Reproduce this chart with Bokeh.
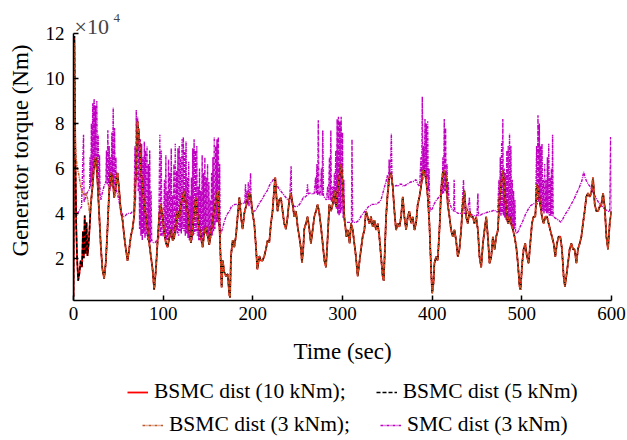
from bokeh.plotting import figure
from bokeh.layouts import column
from bokeh.models import Range1d, Legend, LegendItem, Label, FixedTicker
from bokeh.embed import file_html
from bokeh.resources import INLINE

# ---------------- data (torque in units of 1e4 Nm) ----------------
x_ticks = [0, 100, 200, 300, 400, 500, 600]
y_ticks = [2, 4, 6, 8, 10, 12]

# BSMC response (10 kNm / 5 kNm disturbance curves coincide)
bsmc_points = [
    (0, 0.3), (1.0, 11.9), (2.0, 7.0), (3.0, 3.5), (4.0, 2.0), (5.2, 1.0), (6.5, 1.3), (8.0, 1.9), (9.5, 1.6), (10.5, 3.2),
    (11.5, 2.0), (12.5, 3.9), (13.5, 2.2), (14.5, 3.6), (15.6, 2.1), (16.8, 2.6), (18.0, 3.4), (19.3, 4.4), (21.2, 5.2), (23.0, 6.2),
    (24.9, 6.5), (26.7, 5.5), (28.6, 4.0), (30.5, 2.5), (32.3, 1.5), (34.2, 1.1), (36.0, 1.8), (37.9, 3.3), (39.8, 5.0), (41.6, 5.8),
    (43.5, 5.6), (45.4, 4.7), (47.2, 5.2), (49.1, 5.8), (51.0, 5.0), (52.8, 4.1), (54.7, 3.7), (56.5, 3.0), (58.4, 2.4), (60.2, 1.9),
    (62.1, 2.4), (64.0, 3.0), (65.8, 3.3), (67.7, 3.9), (69.6, 5.9), (71.4, 8.1), (73.3, 7.3), (75.1, 5.9), (77.0, 5.2), (78.8, 4.4),
    (80.7, 3.9), (82.6, 3.3), (84.4, 2.7), (86.3, 2.1), (88.2, 1.5), (90.0, 0.6), (91.9, 1.5), (93.7, 2.7), (95.6, 3.9), (97.4, 4.4),
    (99.3, 3.9), (101.2, 3.1), (103.0, 2.7), (104.9, 2.5), (106.8, 2.9), (108.6, 3.3), (110.5, 2.8), (112.3, 2.9), (114.2, 3.6), (116.1, 4.1),
    (117.9, 3.8), (119.8, 4.4), (121.7, 4.7), (123.5, 5.0), (125.4, 4.4), (127.2, 4.1), (129.1, 3.3), (130.9, 2.7), (132.8, 3.3), (134.7, 4.1),
    (136.5, 4.7), (138.4, 3.9), (140.3, 3.3), (142.1, 3.0), (144.0, 2.5), (145.8, 3.1), (147.7, 3.4), (149.6, 3.0), (151.4, 2.6), (153.3, 3.2),
    (155.0, 3.6), (157.0, 4.2), (159.0, 4.6), (161.0, 5.0), (162.5, 3.8), (164.0, 2.1), (165.2, 0.7), (166.5, 1.9), (168.0, 1.4), (170.0, 1.2),
    (172.0, 1.3), (173.7, 0.4), (174.6, 0.25), (175.6, 2.1), (177.5, 2.8), (179.3, 2.5), (181.2, 3.0), (183.0, 3.85), (185.0, 4.7), (186.8, 3.85),
    (188.6, 3.3), (190.5, 4.0), (192.3, 4.3), (194.2, 4.6), (196.0, 4.9), (197.9, 4.7), (199.7, 4.0), (201.6, 3.55), (203.5, 2.5), (205.0, 1.5),
    (207.2, 2.1), (209.0, 1.9), (210.9, 1.9), (212.8, 2.1), (214.6, 2.4), (216.5, 2.8), (218.3, 2.7), (220.2, 3.55), (222.0, 4.1), (224.0, 5.2),
    (225.0, 5.6), (226.4, 4.7), (227.6, 4.1), (229.5, 4.6), (231.3, 4.7), (233.2, 4.1), (235.0, 3.55), (236.9, 3.3), (238.8, 3.85), (240.6, 4.6),
    (242.5, 4.9), (244.4, 4.4), (246.2, 3.85), (248.1, 4.1), (250.0, 3.4), (251.8, 2.96), (253.7, 2.4), (254.8, 1.8), (256.2, 2.4), (257.4, 3.3),
    (259.2, 3.55), (261.1, 3.85), (263.0, 3.3), (264.8, 2.66), (266.7, 3.26), (268.6, 3.85), (270.4, 4.1), (272.3, 4.4), (274.2, 4.0), (276.0, 3.4),
    (277.9, 2.66), (279.8, 1.9), (281.6, 1.6), (283.5, 2.96), (285.3, 4.4), (287.2, 4.1), (289.0, 4.4), (290.9, 5.0), (292.8, 4.3), (294.6, 5.0),
    (296.5, 5.6), (298.4, 6.2), (300.3, 5.3), (302.0, 3.85), (304.4, 2.96), (306.0, 3.26), (308.0, 2.66), (309.5, 3.55), (311.4, 3.26), (313.2, 2.66),
    (315.0, 2.07), (316.9, 1.2), (318.8, 1.8), (320.6, 2.4), (322.5, 2.96), (324.4, 3.26), (326.2, 4.1), (328.0, 3.85), (330.0, 3.55), (331.8, 3.85),
    (333.7, 3.4), (335.5, 3.7), (337.4, 3.26), (339.3, 3.55), (341.1, 2.96), (343.0, 2.07), (344.8, 1.2), (346.0, 1.0), (347.5, 2.66), (348.6, 3.85),
    (350.4, 4.9), (352.3, 5.6), (354.2, 5.8), (356.0, 5.2), (357.9, 4.1), (359.7, 3.26), (361.6, 3.55), (363.5, 3.4), (365.3, 3.85), (367.2, 4.74),
    (369.0, 3.85), (370.9, 3.26), (372.8, 3.85), (374.6, 4.1), (376.5, 3.55), (378.3, 3.85), (380.2, 3.26), (382.0, 3.55), (383.9, 4.4), (385.8, 4.74),
    (387.6, 5.2), (389.5, 5.9), (391.4, 5.9), (393.2, 5.5), (395.1, 4.74), (396.9, 3.55), (398.8, 1.5), (400.0, 0.44), (401.5, 0.9), (402.5, 1.78),
    (404.4, 2.07), (406.2, 1.9), (408.1, 3.26), (410.0, 5.0), (411.8, 5.8), (413.7, 5.9), (415.5, 5.6), (417.4, 4.4), (419.3, 3.85), (421.1, 3.26),
    (423.0, 2.96), (424.8, 3.26), (426.7, 2.8), (428.6, 2.07), (430.4, 2.4), (432.3, 3.26), (434.1, 4.4), (436.0, 5.0), (437.9, 3.85), (439.7, 3.55),
    (441.6, 4.1), (443.5, 3.85), (445.3, 3.85), (447.2, 3.55), (449.0, 3.85), (451.0, 3.26), (452.8, 2.07), (454.7, 1.6), (456.6, 2.66), (458.4, 3.26),
    (460.3, 3.85), (462.1, 2.96), (464.0, 1.78), (465.9, 2.07), (467.7, 2.96), (469.6, 2.4), (471.4, 2.96), (473.3, 3.26), (475.2, 4.74), (477.0, 5.3),
    (478.9, 5.9), (480.8, 5.0), (482.6, 4.1), (484.5, 3.55), (486.3, 3.85), (488.2, 3.55), (490.1, 3.26), (491.9, 2.96), (493.8, 2.5), (495.6, 1.78),
    (497.5, 0.74), (498.6, 0.6), (500.4, 1.78), (502.0, 2.4), (503.8, 2.66), (505.7, 2.07), (507.6, 1.78), (509.4, 2.66), (511.3, 3.55), (513.1, 3.85),
    (515.0, 3.85), (516.8, 5.3), (518.7, 5.0), (520.6, 4.4), (522.4, 3.85), (524.3, 3.55), (526.2, 3.85), (528.0, 3.85), (529.9, 3.55), (531.7, 3.26),
    (533.6, 2.96), (535.5, 2.66), (537.3, 2.07), (539.2, 2.66), (541.0, 2.96), (542.9, 2.96), (544.8, 2.4), (546.6, 1.2), (548.1, 0.74), (549.6, 1.2),
    (551.5, 1.78), (553.3, 2.4), (555.2, 2.66), (557.1, 2.4), (558.9, 2.4), (560.8, 1.78), (562.6, 2.4), (564.5, 2.66), (566.4, 2.96), (568.2, 3.55),
    (570.1, 4.1), (571.9, 4.74), (573.8, 4.9), (575.7, 4.74), (577.5, 4.9), (579.4, 5.6), (581.3, 4.4), (583.1, 4.1), (585.0, 4.1), (586.8, 4.3),
    (588.7, 4.4), (590.6, 4.9), (592.4, 4.3), (594.3, 2.96), (596.1, 2.4), (598.0, 3.55), (600.0, 4.1),
]
bsmc_time = [t for t, v in bsmc_points]
bsmc_torque = [v for t, v in bsmc_points]

# BSMC with 3 kNm disturbance: differs only in the start-up transient
bsmc3_early_points = [
    (0, 0.3), (1.0, 11.6), (1.6, 8.0), (2.5, 6.6), (4.0, 6.1), (6.0, 5.7),
    (8.0, 5.2), (10.0, 4.9), (12.0, 4.8), (14.0, 4.9), (16.0, 4.6), (18.0, 4.0),
]
bsmc3_time = [t for t, v in bsmc3_early_points] + [t for t in bsmc_time if t > 19]
bsmc3_torque = [v for t, v in bsmc3_early_points] + [v for t, v in bsmc_points if t > 19]

# SMC response (3 kNm disturbance)
smc_points = [
    (0, 0.3), (0.8, 7.0), (2.0, 5.0), (3.5, 3.9), (6, 4.1), (9, 4.3), (11.2, 7.5), (11.8, 4.5), (12.5, 4.6), (15, 4.9),
    (18, 5.1), (18.5, 6.5), (19.2, 5.2), (20, 8.0), (20.7, 5.4), (21.5, 8.9), (22.2, 5.6), (23, 9.1), (23.7, 6.0), (24.5, 8.8),
    (25.2, 6.2), (26, 9.0), (26.7, 5.5), (27.5, 7.5), (28.2, 4.8), (29, 6.6), (29.7, 4.8), (30.5, 4.6), (32, 4.9), (34, 5.2),
    (36, 5.4), (36.8, 6.8), (37.5, 5.3), (38.3, 7.7), (39, 5.2), (39.8, 7.0), (40.5, 5.0), (41.3, 6.5), (42, 5.2), (42.8, 7.6),
    (43.5, 5.4), (44.3, 8.7), (45, 5.0), (45.8, 7.8), (46.5, 5.2), (47.3, 6.5), (48, 5.0), (50, 4.7), (52, 4.3), (54, 4.0),
    (56, 3.85), (58, 3.9), (60, 4.0), (62, 4.0), (64, 4.0), (66, 4.1), (67.5, 4.1), (68.5, 7.0), (69.2, 4.6), (70, 8.6),
    (70.7, 5.5), (71.5, 8.3), (72.2, 5.0), (73, 7.8), (73.7, 3.3), (74.5, 7.3), (75.2, 3.0), (76, 7.1), (76.7, 2.8), (77.5, 6.5),
    (78.2, 3.1), (79, 7.2), (79.7, 2.9), (80.5, 6.8), (81.2, 3.0), (82, 7.0), (82.7, 2.8), (83.5, 6.2), (84.2, 2.9), (85, 6.8),
    (85.7, 2.7), (86.5, 5.0), (87.2, 2.8), (89, 2.7), (91, 2.7), (93, 2.8), (95, 2.9), (96.3, 7.5), (97, 3.0), (97.8, 6.8),
    (98.5, 3.0), (100, 3.0), (101.5, 5.5), (102.2, 2.9), (103, 6.6), (103.7, 2.8), (104.5, 5.0), (105.2, 2.8), (106, 6.4), (106.7, 3.0),
    (107.5, 5.8), (108.2, 2.9), (109, 6.9), (109.7, 3.1), (110.5, 4.8), (111.2, 2.9), (112, 6.2), (112.7, 3.0), (113.5, 7.1), (114.2, 3.2),
    (115, 5.9), (115.7, 3.1), (116.5, 6.9), (117.2, 3.0), (118, 7.0), (118.7, 3.2), (119.5, 6.5), (120.2, 3.1), (121, 7.3), (121.7, 3.3),
    (122.5, 7.4), (123.2, 3.2), (124, 6.8), (124.7, 3.0), (125.5, 7.2), (126.2, 3.1), (127, 5.6), (127.7, 2.9), (128.5, 6.3), (129.2, 2.8),
    (130, 4.8), (130.7, 2.7), (131.5, 5.6), (132.2, 2.8), (133, 6.9), (133.7, 3.0), (134.5, 7.3), (135.2, 3.1), (136, 6.8), (136.7, 3.2),
    (137.5, 7.0), (138.2, 3.0), (139, 5.2), (139.7, 2.8), (140.5, 6.0), (141.2, 2.8), (142, 5.0), (142.7, 2.7), (143.5, 6.6), (144.2, 2.8),
    (145, 5.8), (145.7, 3.0), (146.5, 6.5), (147.2, 3.1), (148, 5.6), (148.7, 3.0), (149.5, 6.2), (150.2, 2.9), (151, 5.4), (151.7, 2.8),
    (152.5, 4.6), (153.2, 2.9), (154, 5.8), (154.7, 3.0), (155.5, 6.5), (156.2, 3.2), (157, 7.4), (157.7, 3.3), (158.5, 7.0), (159.2, 3.6),
    (160, 7.3), (160.7, 3.6), (161.5, 7.4), (162.2, 3.4), (163, 6.2), (163.7, 3.2), (164.3, 3.1), (166, 3.3), (168, 3.6), (170, 3.85),
    (172, 4.0), (174, 4.1), (176, 4.3), (178, 4.35), (180, 4.4), (182, 4.4), (184, 4.35), (186, 4.4), (188, 4.45), (190, 4.45),
    (191, 4.45), (191.8, 5.3), (192.5, 4.4), (193.5, 5.0), (194.2, 4.4), (195, 5.4), (195.7, 4.3), (197.5, 5.8), (198.3, 4.2), (200, 4.1),
    (202, 4.1), (204, 4.2), (206, 4.35), (208, 4.5), (210, 4.6), (212, 4.75), (214, 4.9), (216, 5.0), (218, 5.2), (220, 5.35),
    (222, 5.45), (223.5, 5.55), (225, 5.4), (227, 5.25), (229, 5.1), (231, 5.0), (233, 4.9), (235, 4.8), (237, 4.7), (239, 4.6),
    (241, 4.5), (242.7, 6.1), (243.3, 4.45), (245, 4.35), (247, 4.3), (249, 4.3), (251, 4.35), (253, 4.45), (255, 4.6), (256.5, 4.74),
    (258, 4.7), (260, 4.8), (261, 5.3), (261.7, 4.85), (263, 4.9), (265, 4.9), (267, 4.85), (268.5, 4.9), (270, 5.6), (270.7, 4.9),
    (271.5, 6.2), (272.2, 4.8), (273, 8.15), (273.7, 4.9), (275, 4.8), (276.5, 6.0), (277.2, 4.8), (278, 7.7), (278.7, 4.8), (280, 4.7),
    (282, 4.6), (283.5, 5.2), (284.2, 4.6), (285.5, 6.5), (286.2, 4.6), (287, 7.7), (287.7, 4.5), (289, 5.2), (289.7, 4.5), (291, 5.8),
    (291.7, 4.4), (292.5, 6.8), (293.2, 4.2), (294, 8.2), (294.7, 4.0), (295.5, 8.3), (296.2, 3.9), (297, 8.1), (297.7, 4.0), (298.5, 8.3),
    (299.2, 4.1), (300, 7.6), (300.7, 3.8), (301.5, 5.5), (302.2, 3.6), (304, 3.6), (306, 3.6), (308, 3.6), (310, 3.6), (310.6, 7.3),
    (311.3, 3.6), (313, 3.6), (315, 3.6), (317, 3.65), (319, 3.75), (321, 3.9), (323, 4.0), (325, 4.1), (327, 4.2), (329, 4.3),
    (331, 4.35), (333, 4.4), (335, 4.4), (337, 4.4), (339, 4.45), (341, 4.5), (343, 4.6), (345, 4.9), (347, 5.2), (348.5, 5.4),
    (350, 5.7), (351.2, 5.2), (352, 6.4), (352.7, 5.6), (353.5, 6.1), (354.5, 7.55), (355.2, 5.4), (356, 5.2), (358, 5.2), (360, 5.25),
    (362, 5.2), (364, 5.3), (366, 5.3), (368, 5.2), (370, 5.25), (372, 5.3), (374, 5.35), (376, 5.4), (378, 5.4), (380, 5.45),
    (382, 5.5), (384, 5.3), (386, 5.2), (387.5, 6.5), (388.2, 5.3), (389, 9.2), (389.7, 5.5), (390.5, 7.0), (391.2, 5.8), (392, 8.2),
    (392.7, 5.6), (393.5, 8.0), (394.2, 5.5), (395, 8.1), (395.7, 5.0), (396.5, 6.0), (397.2, 4.5), (398, 4.1), (400, 4.2), (402, 4.4),
    (404, 4.55), (406, 4.65), (408, 4.75), (409.5, 4.8), (410.5, 5.5), (411.2, 4.85), (412, 6.5), (412.7, 4.9), (413.5, 8.2), (414.2, 5.0),
    (415, 7.8), (415.7, 4.9), (416.5, 6.2), (417.2, 4.8), (418, 5.4), (418.7, 4.6), (420, 4.4), (422, 4.2), (424, 4.1), (424.5, 5.5),
    (425.2, 4.1), (427, 4.05), (429, 4.0), (431, 4.0), (433, 4.0), (435, 5.5), (435.7, 4.0), (437, 4.0), (439, 4.0), (441.6, 4.7),
    (442.3, 4.0), (444, 3.95), (446, 3.9), (448, 3.9), (450, 3.9), (451, 4.9), (451.7, 3.9), (453, 3.9), (455, 3.95), (457, 4.0),
    (459, 4.0), (461, 4.05), (463, 4.05), (465, 4.1), (467, 4.1), (469, 4.15), (471, 4.1), (473, 4.05), (474.5, 5.5), (475.2, 4.0),
    (476, 6.5), (476.7, 3.9), (477.5, 7.2), (478.2, 4.0), (478.8, 8.2), (479.5, 3.9), (480.3, 6.0), (481, 3.8), (481.8, 5.8), (482.5, 3.7),
    (483.3, 6.8), (484, 3.6), (484.8, 7.0), (485.5, 3.6), (486.3, 7.55), (487, 3.5), (487.8, 7.0), (488.5, 3.4), (489.3, 5.5), (490, 3.3),
    (490.8, 5.0), (491.5, 3.3), (492.3, 4.6), (493, 3.2), (494, 3.1), (496, 3.2), (498, 3.4), (500, 3.55), (502, 3.75), (504, 3.95),
    (506, 4.1), (508, 4.25), (510, 4.35), (512, 4.4), (514, 4.45), (515.5, 4.5), (516.5, 7.0), (517.2, 4.4), (518, 8.37), (518.7, 4.5),
    (519.5, 8.0), (520.2, 4.3), (521, 7.0), (521.7, 4.2), (522.5, 7.1), (523.2, 4.1), (524, 5.5), (524.7, 4.0), (525.5, 6.2), (526.2, 4.1),
    (527, 5.5), (527.7, 4.0), (528.5, 6.5), (529.2, 4.0), (530, 7.1), (530.7, 3.9), (531.5, 5.6), (532.2, 3.9), (533, 6.0), (533.7, 3.9),
    (534.3, 7.5), (535, 3.85), (537, 3.8), (539, 3.75), (541, 3.7), (543.5, 3.6), (545, 3.7), (547, 3.85), (549, 4.0), (551, 4.1),
    (553, 4.25), (555, 4.4), (557, 4.55), (559, 4.7), (561, 4.9), (563, 5.05), (565, 5.25), (567, 5.45), (569, 5.85), (570.5, 5.6),
    (572, 5.45), (574, 5.3), (576, 5.2), (578, 5.05), (580, 4.9), (582, 4.75), (584, 4.6), (586, 4.45), (588, 4.35), (590, 4.3),
    (592, 4.2), (594, 4.15), (596, 4.1), (598, 4.07), (599, 7.4), (600, 4.1),
]
smc_time = [t for t, v in smc_points]
smc_torque = [v for t, v in smc_points]

labels = ["BSMC dist (10 kNm);", "BSMC dist (5 kNm)", "BSMC dist (3 kNm);", "SMC dist (3 kNm)"]

# ---------------- styles ----------------
FONT = "Liberation Serif"
STYLE_10 = dict(line_color="#FF0000", line_width=1.8)
STYLE_5 = dict(line_color="black", line_width=1.5, line_dash="4 2")
STYLE_3 = dict(line_color="#C05A28", line_width=1.5, line_dash="3 1 1 1")
STYLE_SMC = dict(line_color="#C000C0", line_width=1.4, line_dash="3 1 1 1")

# ---------------- main figure ----------------
Y_TOP = 13.48   # frame extends above the axis end (12) so the scale note is not clipped
p = figure(frame_width=538, frame_height=300,
           x_range=Range1d(0, 600), y_range=Range1d(0.12, Y_TOP),
           output_backend="svg", toolbar_location=None,
           min_border_left=73, min_border_right=16, min_border_top=0, min_border_bottom=72)
p.outline_line_color = None
p.grid.visible = False
p.background_fill_color = "white"
p.border_fill_color = "white"

p.line(smc_time, smc_torque, **STYLE_SMC)
p.line(bsmc_time, bsmc_torque, **STYLE_10)
p.line(bsmc_time, bsmc_torque, **STYLE_5)
p.line(bsmc3_time, bsmc3_torque, **STYLE_3)

p.xaxis.ticker = FixedTicker(ticks=x_ticks)
p.yaxis.ticker = FixedTicker(ticks=y_ticks)
p.yaxis.bounds = (0.12, 12)
for ax in (p.xaxis[0], p.yaxis[0]):
    ax.major_tick_in = 5
    ax.major_tick_out = 0
    ax.minor_tick_in = 0
    ax.minor_tick_out = 0
    ax.axis_line_width = 1.5
    ax.axis_line_color = "black"
    ax.major_tick_line_width = 1.5
    ax.major_tick_line_color = "black"
    ax.major_label_text_font = FONT
    ax.major_label_text_font_size = "19px"
    ax.major_label_text_color = "black"
    ax.axis_label_text_font = FONT
    ax.axis_label_text_font_size = "23px"
    ax.axis_label_text_font_style = "normal"
    ax.axis_label_text_color = "black"
p.xaxis.axis_label = "Time (sec)"
p.yaxis.axis_label = "Generator torque (Nm)"
p.xaxis.major_label_standoff = 6
p.yaxis.major_label_standoff = 9
p.xaxis.axis_label_standoff = 16
p.yaxis.axis_label_standoff = 10

# scale factor note "×10^4"
p.add_layout(Label(x=0, y=12, text="×10", x_offset=1, y_offset=7,
                   text_font=FONT, text_font_size="22px", text_baseline="alphabetic"))
p.add_layout(Label(x=0, y=12, text="4", x_offset=40, y_offset=16,
                   text_font=FONT, text_font_size="13px", text_baseline="alphabetic"))

# ---------------- legend strip below ----------------
# the series are re-drawn here outside the visible range so that only their legend keys show
lg_fig = figure(width=627, height=68, x_axis_type=None, y_axis_type=None,
                x_range=Range1d(-20, -10), y_range=Range1d(0, 12),
                output_backend="svg", toolbar_location=None, min_border=0)
lg_fig.outline_line_color = None
lg_fig.grid.visible = False
lg_fig.background_fill_color = "white"
lg_fig.border_fill_color = "white"
k_10 = lg_fig.line(bsmc_time, bsmc_torque, **STYLE_10)
k_5 = lg_fig.line(bsmc_time, bsmc_torque, **STYLE_5)
k_3 = lg_fig.line(bsmc3_time, bsmc3_torque, **STYLE_3)
k_smc = lg_fig.line(smc_time, smc_torque, **STYLE_SMC)

legend_rows = [
    ([LegendItem(label=labels[0], renderers=[k_10]), LegendItem(label=labels[1], renderers=[k_5])], (54, 36)),
    ([LegendItem(label=labels[2], renderers=[k_3]), LegendItem(label=labels[3], renderers=[k_smc])], (69, 3)),
]
for items, loc in legend_rows:
    lg = Legend(items=items, location=loc, orientation="horizontal",
                label_text_font=FONT, label_text_font_size="21.5px", label_text_color="black",
                glyph_width=21, glyph_height=22, label_height=22, label_standoff=6,
                padding=0, spacing=30, margin=0, border_line_alpha=0,
                background_fill_alpha=0)
    lg_fig.add_layout(lg)

open("out.html", "w").write(file_html(column(p, lg_fig, spacing=0), INLINE))
